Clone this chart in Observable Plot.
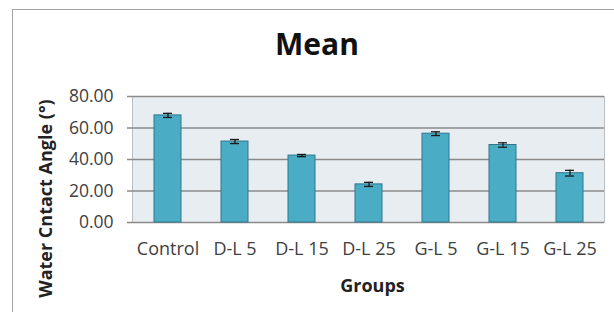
<!DOCTYPE html>
<html>
<head>
<meta charset="utf-8">
<script src="https://cdn.jsdelivr.net/npm/d3@7"></script>
<script src="https://cdn.jsdelivr.net/npm/@observablehq/plot@0.6"></script>
<style>
  html, body { margin: 0; padding: 0; background: #fff; overflow: hidden; }
  #wrap { position: relative; width: 614px; height: 312px; overflow: hidden; font-family: "Open Sans", sans-serif; }
  #border { position: absolute; left: 12px; top: 9px; width: 700px; height: 400px; border: 1.5px solid #a3a3a3; box-sizing: border-box; }
  #title { position: absolute; left: 0; width: 634px; top: 22px; text-align: center; font-size: 30px; font-weight: bold; color: #111; line-height: 44px; }
  #chart { position: absolute; left: 0; top: 80px; }
  #chart svg { overflow: visible; }
</style>
</head>
<body>
<div id="wrap">
  <div id="border"></div>
  <div id="title">Mean</div>
  <div id="chart"></div>
</div>
<script>
const groups = ["Control", "D-L 5", "D-L 15", "D-L 25", "G-L 5", "G-L 15", "G-L 25"];
const means  = [68.0, 51.4, 42.5, 24.2, 56.4, 49.2, 31.3];
const errors = [1.3, 1.3, 0.7, 1.3, 1.2, 1.4, 1.8];
const yTicks = [0, 20, 40, 60, 80];
const titleText = "Mean";
const yLabel = "Water Cntact Angle (°)";
const xLabel = "Groups";

const data = groups.map((g, i) => ({group: g, mean: means[i], err: errors[i]}));

const chart = Plot.plot({
  width: 614,
  height: 232,
  marginLeft: 132,
  marginRight: 10,
  marginTop: 16,
  marginBottom: 90,
  style: {fontFamily: "'Open Sans', sans-serif", fontSize: "17.5px", color: "#404040", background: "transparent"},
  x: {domain: groups, paddingInner: 0.6, paddingOuter: 0.3, label: null},
  y: {domain: [0, 80], label: null},
  marks: [
    Plot.frame({fill: "#e8edf1", stroke: "#b9bec3"}),
    Plot.gridY(yTicks, {stroke: "#8a8a8a", strokeOpacity: 1, strokeWidth: 1.5}),
    Plot.axisY(yTicks, {tickSize: 5, tickPadding: 14, tickFormat: d => d.toFixed(2), stroke: "#8a8a8a", strokeWidth: 1.5, fill: "#404040", fontSize: 17.5, label: null}),
    Plot.axisX({tickSize: 0, tickPadding: 20, fill: "#404040", fontSize: 18, label: null}),
    Plot.barY(data, {x: "group", y: "mean", fill: "#4bacc6", stroke: "#31778c", strokeWidth: 1}),
    Plot.ruleX(data, {x: "group", y1: d => d.mean - d.err, y2: d => d.mean + d.err, stroke: "#1a1a1a", strokeWidth: 1.3}),
    Plot.tickY(data, {x: "group", y: d => d.mean - d.err, stroke: "#1a1a1a", strokeWidth: 1.3, insetLeft: 9, insetRight: 9}),
    Plot.tickY(data, {x: "group", y: d => d.mean + d.err, stroke: "#1a1a1a", strokeWidth: 1.3, insetLeft: 9, insetRight: 9}),
    Plot.text([yLabel], {frameAnchor: "left", textAnchor: "middle", lineAnchor: "middle", rotate: -90, dx: -86, dy: 39, fontWeight: "bold", fontSize: 18, fill: "#222"}),
    Plot.text([xLabel], {frameAnchor: "bottom", textAnchor: "middle", lineAnchor: "middle", dx: 4, dy: 64, fontWeight: "bold", fontSize: 18, fill: "#222"})
  ]
});
document.getElementById("chart").appendChild(chart);
document.getElementById("title").textContent = titleText;
</script>
</body>
</html>
